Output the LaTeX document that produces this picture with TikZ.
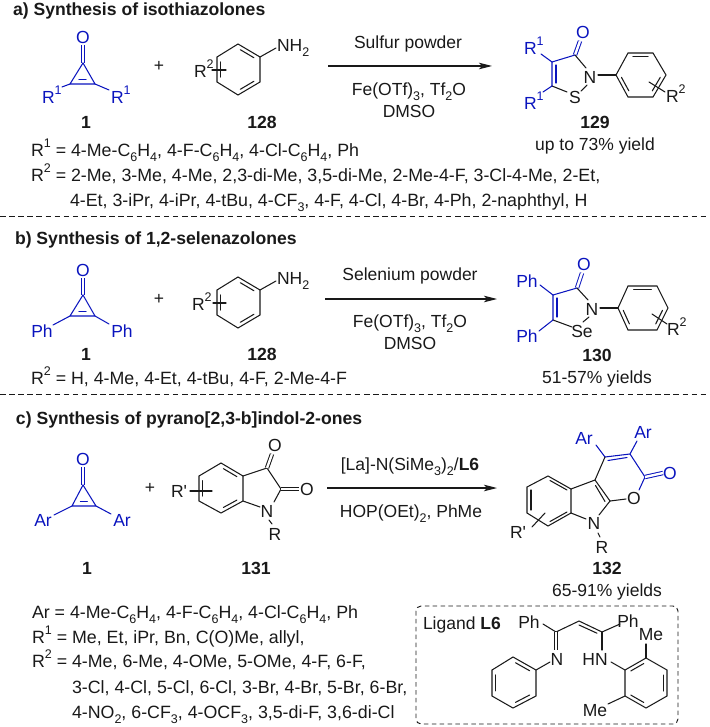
\documentclass[tikz,border=0pt]{standalone}
\usepackage{fontspec}
\setmainfont{Liberation Sans}
\newfontfamily\plainf{Liberation Sans}
\usetikzlibrary{calc,arrows.meta}
\definecolor{chemblue}{RGB}{10,20,190}
\definecolor{ink}{RGB}{25,25,25}
\newcommand\subx[1]{\raisebox{-0.27em}{\fontsize{12.5}{12.5}\selectfont #1}}
\newcommand\supx[1]{\raisebox{0.5em}{\fontsize{12.5}{12.5}\selectfont #1}}
\newcommand\ringsix[7]{%
  \coordinate (#11) at #2; \coordinate (#12) at #3; \coordinate (#13) at #4;
  \coordinate (#14) at #5; \coordinate (#15) at #6; \coordinate (#16) at #7;
  \coordinate (#1c) at ($(#11)!.5!(#14)$);
  \draw[bd] (#11)--(#12)--(#13)--(#14)--(#15)--(#16)--cycle;}
\newcommand\innr[4][ink]{\draw[bd,draw=#1] ($(#2)!.13!(#3)!.17!(#4)$) -- ($(#3)!.13!(#2)!.17!(#4)$);}
\newcommand\cprop[5]{% name, oxygen end, apex, left, right
  \coordinate (#1o) at #2; \coordinate (#1a) at #3; \coordinate (#1l) at #4; \coordinate (#1r) at #5;
  \coordinate (#1m) at ($(#1l)!.5!(#1r)$);
  \draw[dbl,draw=chemblue] (#1o)--(#1a);
  \draw[bb] (#1a)--(#1l)--(#1r)--cycle;
  \draw[bb] ($(#1l)!.32!(#1r)!.2!(#1a)$)--($(#1r)!.32!(#1l)!.2!(#1a)$);}
\tikzset{
  bd/.style={draw=ink,line width=1.05pt,line cap=round},
  bb/.style={draw=chemblue,line width=1.05pt,line cap=round},
  dbl/.style={double=white,double distance=2.4pt,line width=1pt},
  txt/.style={inner sep=0,outer sep=0,text=ink,anchor=base,yshift=-6.3pt,font=\fontsize{17.5}{17.5}\selectfont},
  txw/.style={txt,anchor=base west},
  lst/.style={txw,font=\fontsize{17.8}{17.8}\selectfont},
  btxt/.style={txt,font=\fontsize{17.6}{17.6}\selectfont\bfseries},
  btxw/.style={btxt,anchor=base west},
  blu/.style={text=chemblue},
  rxn/.style={draw=ink,line width=1.05pt,-{Stealth[length=13pt,width=6.5pt,inset=3pt]}},
  sep/.style={draw=ink,line width=.85pt,dash pattern=on 5.5pt off 3.6pt},
}
\begin{document}
\begin{tikzpicture}[x=1pt,y=-1pt]
\useasboundingbox (0,0) rectangle (709,727);
% ---------- a ----------
\node[btxw] (ha) at (13,9) {a) Synthesis of isothiazolones};
\node[txt,blu] (aO) at (83,37) {O};
\cprop{aC}{(83,45)}{(83,63)}{(70,84)}{(95,84)}
\coordinate (aR1e) at (62,87); \coordinate (aR2e) at (109,90);
\draw[bb] (aCl)--(aR1e); \draw[bb] (aCr)--(aR2e);
\node[txw,blu] (aR1) at (42,97) {R\supx{1}};
\node[txw,blu] (aR2) at (111,97) {R\supx{1}};
\node[txt] (aplus) at (159,65) {+};
\node[btxt] (an1) at (86,122) {1};
\ringsix{aA}{(238,44)}{(260,57)}{(260,82)}{(238,95)}{(217,82)}{(217,57)}
\innr{aA1}{aA2}{aAc}\innr{aA3}{aA4}{aAc}\innr{aA5}{aA6}{aAc}
\coordinate (aNe) at (276,48); \draw[bd] (aA2)--(aNe);
\node[txw] (aN) at (277,45) {NH\subx{2}};
\node[txw] (aRA) at (194,71) {R\supx{2}};
\coordinate (aXa) at (212,70); \coordinate (aXb) at (226,70); \draw[bd] (aXa)--(aXb);
\node[btxt] (an128) at (262,122) {128};
\coordinate (aS) at (328,66); \coordinate (aE) at (492,66); \draw[rxn] (aS)--(aE);
\node[txt] (ar1) at (408,42) {Sulfur powder};
\node[txt] (ar2) at (409,89) {Fe(OTf)\subx{3}, Tf\subx{2}O};
\node[txt] (ar3) at (409,111) {DMSO};
% product 129
\node[txt,blu] (pO) at (583,32) {O};
\node[txt] (pN) at (590,77) {N};
\node[txt] (pS) at (575,97) {S};
\coordinate (pC3) at (575,55); \coordinate (pC4) at (552,62); \coordinate (pC5) at (552,86);
\coordinate (pOe) at (580,41);
\draw[dbl,draw=chemblue] (pOe)--(pC3);
\draw[bb] (pC3)--(pC4)--(pC5);
\draw[bb] ($(pC4)+(4,3)$)--($(pC5)+(4,-3)$);
\draw[bd] (pC3)--(586,68);
\draw[bd] (587,85)--(581,91);
\draw[bd] (pC5)--(567,92);
\coordinate (pU) at (541,54); \coordinate (pL) at (543,92);
\draw[bb] (pC4)--(pU); \draw[bb] (pC5)--(pL);
\node[txw,blu] (pR1) at (524,48) {R\supx{1}};
\node[txw,blu] (pR2) at (524,103) {R\supx{1}};
\ringsix{pA}{(628,53)}{(653,53)}{(666,75)}{(653,97)}{(628,97)}{(616,75)}
\innr{pA1}{pA2}{pAc}\innr{pA3}{pA4}{pAc}\innr{pA5}{pA6}{pAc}
\draw[bd] (598,75)--(pA6);
\coordinate (pXa) at (649,82); \coordinate (pXb) at (665,92); \draw[bd] (pXa)--(pXb);
\node[txw] (pRA) at (666,96) {R\supx{2}};
\node[btxt] (pn) at (595,122) {129};
\node[txt] (py) at (595,144) {up to 73\% yield};
\node[lst] (al1) at (31,150) {R\supx{1} = 4-Me-C\subx{6}H\subx{4}, 4-F-C\subx{6}H\subx{4}, 4-Cl-C\subx{6}H\subx{4}, Ph};
\node[lst] (al2) at (31,175) {R\supx{2} = 2-Me, 3-Me, 4-Me, 2,3-di-Me, 3,5-di-Me, 2-Me-4-F, 3-Cl-4-Me, 2-Et,};
\node[lst] (al3) at (70,200) {4-Et, 3-iPr, 4-iPr, 4-tBu, 4-CF\subx{3}, 4-F, 4-Cl, 4-Br, 4-Ph, 2-naphthyl, H};
\coordinate (s1a) at (0,216); \coordinate (s1b) at (709,216); \draw[sep] (s1a)--(s1b);
% ---------- b ----------
\node[btxw] (hb) at (15,238) {b) Synthesis of 1,2-selenazolones};
\node[txt,blu] (bO) at (83,270) {O};
\cprop{bC}{(83,278)}{(83,295)}{(70,316)}{(95,316)}
\coordinate (bL) at (53,325); \coordinate (bR) at (109,324);
\draw[bb] (bCl)--(bL); \draw[bb] (bCr)--(bR);
\node[txt,blu] (bP1) at (42,331) {Ph};
\node[txt,blu] (bP2) at (122,331) {Ph};
\node[txt] (bplus) at (159,298) {+};
\node[btxt] (bn1) at (86,354) {1};
\ringsix{bA}{(238,277)}{(260,290)}{(260,315)}{(238,328)}{(217,315)}{(217,290)}
\innr{bA1}{bA2}{bAc}\innr{bA3}{bA4}{bAc}\innr{bA5}{bA6}{bAc}
\coordinate (bNe) at (276,281); \draw[bd] (bA2)--(bNe);
\node[txw] (bN) at (277,278) {NH\subx{2}};
\node[txw] (bRA) at (192,304) {R\supx{2}};
\coordinate (bXa) at (213,303); \coordinate (bXb) at (226,303); \draw[bd] (bXa)--(bXb);
\node[btxt] (bn128) at (262,354) {128};
\coordinate (bS) at (325,299); \coordinate (bE) at (497,299); \draw[rxn] (bS)--(bE);
\node[txt] (br1) at (410,274) {Selenium powder};
\node[txt] (br2) at (410,321) {Fe(OTf)\subx{3}, Tf\subx{2}O};
\node[txt] (br3) at (410,343) {DMSO};
\node[txt,blu] (qO) at (584,264) {O};
\node[txt] (qN) at (592,309) {N};
\node[txt] (qSe) at (582,331) {Se};
\coordinate (qC3) at (577,288); \coordinate (qC4) at (553,295); \coordinate (qC5) at (553,320);
\coordinate (qOe) at (582,273);
\draw[dbl,draw=chemblue] (qOe)--(qC3);
\draw[bb] (qC3)--(qC4)--(qC5);
\draw[bb] ($(qC4)+(4,3)$)--($(qC5)+(4,-3)$);
\draw[bd] (qC3)--(588,300);
\draw[bd] (589,317)--(583,322);
\draw[bd] (qC5)--(572,327);
\coordinate (qU) at (540,285); \coordinate (qL) at (539,331);
\draw[bb] (qC4)--(qU); \draw[bb] (qC5)--(qL);
\node[txt,blu] (qP1) at (527,281) {Ph};
\node[txt,blu] (qP2) at (527,336) {Ph};
\ringsix{qA}{(628,286)}{(657,286)}{(668,308)}{(657,330)}{(628,330)}{(618,308)}
\innr{qA1}{qA2}{qAc}\innr{qA3}{qA4}{qAc}\innr{qA5}{qA6}{qAc}
\draw[bd] (600,308)--(qA6);
\coordinate (qXa) at (652,314); \coordinate (qXb) at (667,324); \draw[bd] (qXa)--(qXb);
\node[txw] (qRA) at (667,329) {R\supx{2}};
\node[btxt] (qn) at (597,355) {130};
\node[txt] (qy) at (597,377) {51-57\% yields};
\node[lst] (bl1) at (31,378) {R\supx{2} = H, 4-Me, 4-Et, 4-tBu, 4-F, 2-Me-4-F};
\coordinate (s2a) at (0,394); \coordinate (s2b) at (709,394); \draw[sep] (s2a)--(s2b);
% ---------- c ----------
\node[btxw] (hc) at (16,418) {c) Synthesis of pyrano[2,3-b]indol-2-ones};
\node[txt,blu] (cO) at (83,459) {O};
\cprop{cC}{(83,467)}{(83,485)}{(72,506)}{(96,506)}
\coordinate (cL) at (54,515); \coordinate (cR) at (111,514);
\draw[bb] (cCl)--(cL); \draw[bb] (cCr)--(cR);
\node[txt,blu] (cA1) at (43,520) {Ar};
\node[txt,blu] (cA2) at (122,520) {Ar};
\node[txt] (cplus) at (150,487) {+};
\node[btxt] (cn1) at (87,568) {1};
\ringsix{cI}{(221,463)}{(243,476)}{(243,501)}{(221,513)}{(199,501)}{(199,476)}
\innr{cI1}{cI2}{cIc}\innr{cI3}{cI4}{cIc}\innr{cI5}{cI6}{cIc}
\node[txt] (cIO1) at (275,445) {O};
\node[txt] (cIO2) at (307,489) {O};
\node[txt] (cIN) at (267,511) {N};
\node[txt] (cIR) at (275,534) {R};
\coordinate (cC3) at (267,468); \coordinate (cC2) at (281,489);
\draw[bd] (cI2)--(cC3)--(cC2)--(274,502);
\draw[dbl,draw=ink] (cC3)--(272,454);
\draw[dbl,draw=ink] (cC2)--(299,489);
\draw[bd] (cI3)--(260,507);
\draw[bd] (269,520)--(272,524);
\node[txt] (cIRp) at (179,491) {\plainf R'};
\coordinate (cXa) at (190,491); \coordinate (cXb) at (212,491); \draw[bd] (cXa)--(cXb);
\node[btxt] (cn131) at (256,568) {131};
\coordinate (cS) at (327,488); \coordinate (cE) at (497,488); \draw[rxn] (cS)--(cE);
\node[txt] (cr1) at (410,464) {[La]-N(SiMe\subx{3})\subx{2}/\textbf{L6}};
\node[txt] (cr2) at (411,511) {HOP(OEt)\subx{2}, PhMe};
% product 132
\node[txt,blu] (rA1) at (584,438) {Ar};
\node[txt,blu] (rA2) at (643,432) {Ar};
\node[txt,blu] (rO) at (670,473) {O};
\node[txt] (rOr) at (634,498) {O};
\node[txt] (rN) at (594,523) {N};
\node[txt] (rR) at (602,547) {R};
\coordinate (r4) at (605,457); \coordinate (r3) at (630,454); \coordinate (r2) at (645,477);
\coordinate (r9a) at (610,501); \coordinate (r4a) at (595,480);
\coordinate (r4b) at (571,489); \coordinate (r8a) at (571,513);
\coordinate (rt) at (548,476); \coordinate (rul) at (527,487); \coordinate (rll) at (527,513); \coordinate (rb) at (548,526);
\draw[bb] (r4)--(r3)--(r2);
\draw[bb] (r2)--(639,490);
\draw[bb] ($(r4)+(3,3.5)$)--($(r3)+(-3,3.5)$);
\draw[bb] (r4)--(596,445);
\draw[bb] (r3)--(637,441);
\draw[dbl,draw=chemblue] (r2)--(663,473);
\draw[bd] (r4)--(r4a)--(r9a);
\draw[bd] ($(r4a)+(.5,5.5)$)--($(r9a)+(-5,.5)$);
\draw[bd] (r9a)--(626,499);
\draw[bd] (r9a)--(599,515);
\draw[bd] (r4a)--(r4b)--(r8a)--(586,519);
\draw[bd] (r4b)--(rt)--(rul)--(rll)--(rb)--(r8a);
\draw[bd] ($(rt)+(2,4.5)$)--($(r4b)+(-4,1)$);
\draw[bd] ($(rul)+(4,3)$)--($(rll)+(4,-3)$);
\draw[bd] ($(rb)+(2,-4.5)$)--($(r8a)+(-4,-1)$);
\draw[bd] (598,533)--(600,537);
\coordinate (rXa) at (532,527); \coordinate (rXb) at (545,513); \draw[bd] (rXa)--(rXb);
\node[txt] (rRp) at (518,532) {\plainf R'};
\node[btxt] (rn) at (607,568) {132};
\node[txt] (ry) at (607,590) {65-91\% yields};
\node[lst] (cl1) at (32,612) {Ar = 4-Me-C\subx{6}H\subx{4}, 4-F-C\subx{6}H\subx{4}, 4-Cl-C\subx{6}H\subx{4}, Ph};
\node[lst] (cl2) at (32,637) {R\supx{1} = Me, Et, iPr, Bn, C(O)Me, allyl,};
\node[lst] (cl3) at (32,661) {R\supx{2} = 4-Me, 6-Me, 4-OMe, 5-OMe, 4-F, 6-F,};
\node[lst] (cl4) at (72,687) {3-Cl, 4-Cl, 5-Cl, 6-Cl, 3-Br, 4-Br, 5-Br, 6-Br,};
\node[lst] (cl5) at (72,712) {4-NO\subx{2}, 6-CF\subx{3}, 4-OCF\subx{3}, 3,5-di-F, 3,6-di-Cl};
% ligand box
\draw[draw=ink,line width=.95pt,dash pattern=on 4.5pt off 3.4pt,rounded corners=5pt] (416,606) rectangle (678,724);
\node[txw] (lL) at (423,623) {Ligand \textbf{L6}};
\node[txt] (lP1) at (529,622) {Ph};
\node[txt] (lP2) at (628,621) {Ph};
\node[txt] (lN) at (557,659) {N};
\node[txt] (lHN) at (595,659) {HN};
\node[txt] (lM1) at (651,634) {Me};
\node[txt] (lM2) at (595,710) {Me};
\coordinate (l1) at (556,632); \coordinate (l2) at (579,621); \coordinate (l3) at (602,632);
\draw[bd] (543,624)--(l1)--(l2)--(l3)--(620,624);
\draw[bd] ($(l2)+(0,4)$)--($(l3)+(-5,1.2)$);
\draw[dbl,draw=ink] (l1)--(556,650);
\draw[bd] (l3)--(602,650);
\ringsix{lA}{(513,657)}{(536,670)}{(536,696)}{(513,708)}{(492,696)}{(492,670)}
\innr{lA1}{lA2}{lAc}\innr{lA3}{lA4}{lAc}\innr{lA5}{lA6}{lAc}
\draw[bd] (lA2)--(550,662);
\ringsix{lB}{(646,658)}{(667,670)}{(667,696)}{(646,708)}{(625,696)}{(625,670)}
\innr{lB2}{lB3}{lBc}\innr{lB4}{lB5}{lBc}\innr{lB6}{lB1}{lBc}
\draw[bd] (611,662)--(lB6);
\draw[bd] (lB1)--(646,644);
\draw[bd] (lB5)--(608,704);
\end{tikzpicture}
\end{document}
